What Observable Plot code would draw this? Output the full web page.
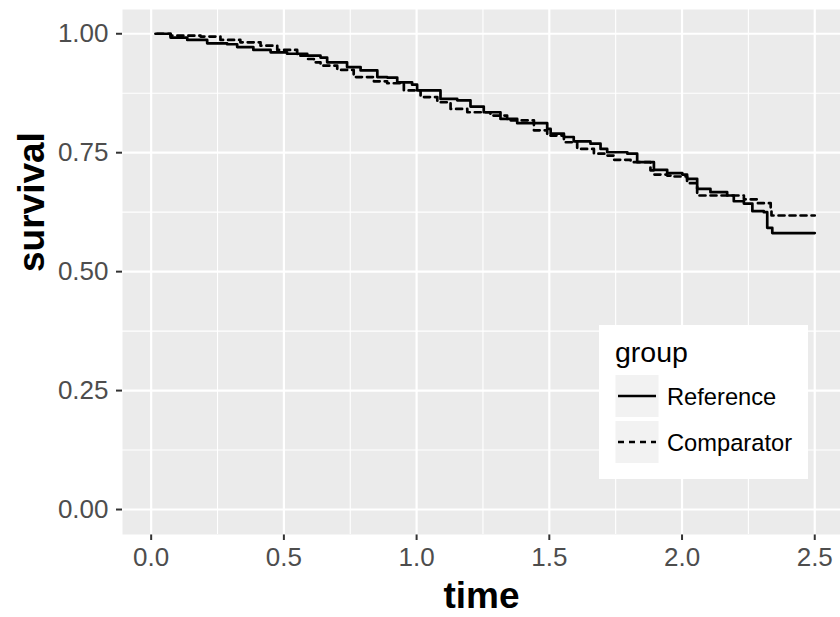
<!DOCTYPE html>
<html>
<head>
<meta charset="utf-8">
<script src="https://cdn.jsdelivr.net/npm/d3@7"></script>
<script src="https://cdn.jsdelivr.net/npm/@observablehq/plot@0.6"></script>
<style>
  html, body { margin: 0; padding: 0; background: #fff; }
  #chart svg [aria-label="x-axis tick"], #chart svg [aria-label="y-axis tick"] { stroke: #333333; stroke-width: 2px; }
  #chart svg [aria-label="x-axis tick label"], #chart svg [aria-label="y-axis tick label"] { fill: #4D4D4D; }
</style>
</head>
<body>
<div id="chart"></div>
<script>
// Reference group (Kaplan-Meier steps)
const refTime = [0.016, 0.073, 0.136, 0.211, 0.286, 0.324, 0.385, 0.450, 0.512, 0.588, 0.638, 0.663, 0.738, 0.789, 0.852, 0.889, 0.927, 0.983, 1.002, 1.090, 1.153, 1.203, 1.253, 1.316, 1.379, 1.492, 1.505, 1.555, 1.592, 1.655, 1.693, 1.718, 1.794, 1.831, 1.894, 1.944, 2.001, 2.019, 2.057, 2.107, 2.170, 2.195, 2.233, 2.265, 2.308, 2.321, 2.340, 2.500];
const refSurv = [1.000, 0.992, 0.987, 0.980, 0.978, 0.972, 0.966, 0.961, 0.958, 0.954, 0.950, 0.940, 0.930, 0.923, 0.909, 0.908, 0.898, 0.893, 0.881, 0.863, 0.860, 0.847, 0.835, 0.821, 0.812, 0.800, 0.790, 0.783, 0.774, 0.769, 0.758, 0.751, 0.748, 0.730, 0.714, 0.707, 0.704, 0.695, 0.674, 0.667, 0.660, 0.648, 0.643, 0.627, 0.625, 0.592, 0.581, 0.581];
// Comparator group
const cmpTime = [0.023, 0.073, 0.186, 0.261, 0.336, 0.412, 0.475, 0.550, 0.588, 0.613, 0.638, 0.701, 0.763, 0.839, 0.889, 0.952, 1.015, 1.078, 1.128, 1.191, 1.278, 1.341, 1.442, 1.492, 1.555, 1.605, 1.668, 1.718, 1.743, 1.806, 1.881, 1.894, 1.944, 1.969, 2.019, 2.057, 2.233, 2.283, 2.334, 2.337, 2.500];
const cmpSurv = [1.000, 0.996, 0.994, 0.987, 0.982, 0.975, 0.966, 0.954, 0.947, 0.940, 0.933, 0.924, 0.909, 0.900, 0.896, 0.881, 0.867, 0.856, 0.842, 0.835, 0.828, 0.818, 0.797, 0.786, 0.772, 0.758, 0.748, 0.744, 0.735, 0.730, 0.713, 0.704, 0.702, 0.700, 0.686, 0.660, 0.652, 0.644, 0.632, 0.618, 0.618];

const groups = ["Reference", "Comparator"];
const xTicks = [0, 0.5, 1, 1.5, 2, 2.5];
const xMinor = [0.25, 0.75, 1.25, 1.75, 2.25];
const yTicks = [0, 0.25, 0.5, 0.75, 1];
const yMinor = [0.125, 0.375, 0.625, 0.875];
const xTitle = "time";
const yTitle = "survival";
const legendTitle = "group";

const refData = refTime.map((t, i) => ({t, s: refSurv[i], group: groups[0]}));
const cmpData = cmpTime.map((t, i) => ({t, s: cmpSurv[i], group: groups[1]}));

const W = 840, H = 617;
const mL = 122, mR = 0, mT = 9, mB = 83;

const chart = Plot.plot({
  width: W, height: H,
  marginLeft: mL, marginRight: mR, marginTop: mT, marginBottom: mB,
  style: {fontFamily: "'Liberation Sans', Arial, sans-serif", background: "white", overflow: "visible"},
  x: {domain: [-0.108, 2.597], ticks: xTicks, tickFormat: d => d.toFixed(1), tickSize: 6, tickPadding: 7, label: null},
  y: {domain: [-0.0525, 1.051], ticks: yTicks, tickFormat: d => d.toFixed(2), tickSize: 6, tickPadding: 8, label: null},
  marks: [
    Plot.frame({fill: "#EBEBEB", stroke: null}),
    Plot.ruleX(xMinor, {stroke: "white", strokeWidth: 1.1}),
    Plot.ruleY(yMinor, {stroke: "white", strokeWidth: 1.1}),
    Plot.ruleX(xTicks, {stroke: "white", strokeWidth: 2.2}),
    Plot.ruleY(yTicks, {stroke: "white", strokeWidth: 2.2}),
    Plot.line(cmpData, {x: "t", y: "s", curve: "step-after", stroke: "black", strokeWidth: 2.7, strokeDasharray: "6,5"}),
    Plot.line(refData, {x: "t", y: "s", curve: "step-after", stroke: "black", strokeWidth: 2.7}),
    Plot.text([xTitle], {frameAnchor: "bottom", lineAnchor: "bottom", dy: 73, fontSize: 37, fontWeight: "bold", fill: "black"}),
    Plot.text([yTitle], {frameAnchor: "left", lineAnchor: "bottom", rotate: -90, dx: -79, fontSize: 37, fontWeight: "bold", fill: "black"})
  ]
});

// tick label font size
d3.select(chart).selectAll('[aria-label="x-axis tick label"], [aria-label="y-axis tick label"]').attr("font-size", 26);

// Legend (inside the panel, bottom right)
const svg = d3.select(chart);
const lg = svg.append("g").attr("font-family", "'Liberation Sans', Arial, sans-serif").attr("text-anchor", "start");
lg.append("rect").attr("x", 599).attr("y", 325).attr("width", 209).attr("height", 154).attr("fill", "white");
lg.append("text").attr("x", 615).attr("y", 362).attr("font-size", 28.5).attr("fill", "black").attr("text-anchor", "start").text(legendTitle);
const keyY = [375, 421];
const dashes = [null, "6,5"];
groups.forEach((g, i) => {
  lg.append("rect").attr("x", 615.5).attr("y", keyY[i]).attr("width", 43).attr("height", 42).attr("fill", "#F2F2F2");
  lg.append("line").attr("x1", 618).attr("x2", 656).attr("y1", keyY[i] + 21).attr("y2", keyY[i] + 21)
    .attr("stroke", "black").attr("stroke-width", 2.7).attr("stroke-dasharray", dashes[i]);
  lg.append("text").attr("x", 667).attr("y", keyY[i] + 30).attr("font-size", 23.7).attr("fill", "black").attr("text-anchor", "start").text(g);
});

document.getElementById("chart").append(chart);
</script>
</body>
</html>
